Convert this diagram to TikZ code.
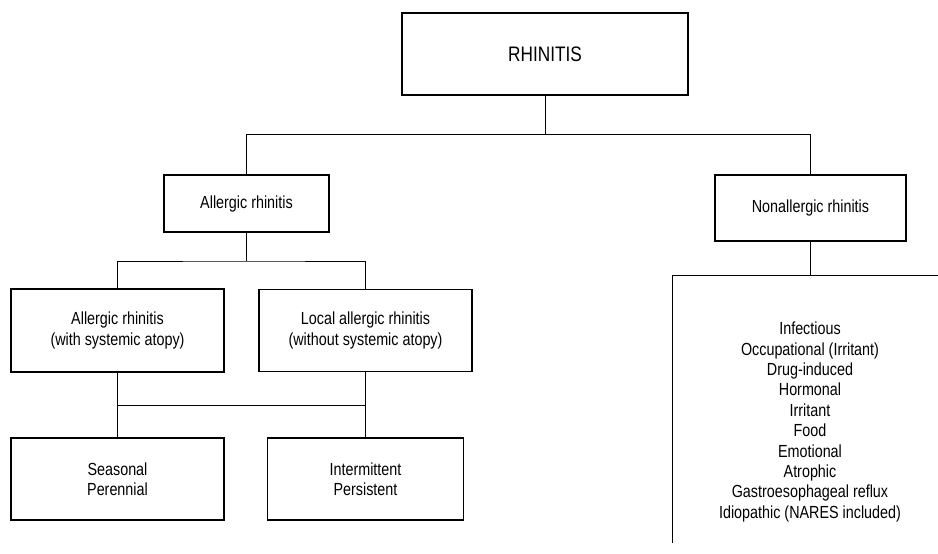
\documentclass[tikz,border=0pt]{standalone}
\usepackage{fontspec}
\setmainfont{Liberation Sans}[FakeStretch=0.82]
\tikzset{box/.style={draw, line width=1.1pt, align=center, inner sep=0pt},
         link/.style={line width=1pt}}
\begin{document}
\begin{tikzpicture}[x=1pt, y=-1pt, font=\fontsize{17.5}{20.4}\selectfont]
            \useasboundingbox (0,0) rectangle (938,554);
            \node [box, minimum width=286, minimum height=82, font=\fontsize{21}{24}\selectfont] (rhinitis) at (545,54) {RHINITIS};
            \node [box, minimum width=165, minimum height=57] (allergic) at (246.5,203.5) {Allergic rhinitis};
            \node [box, minimum width=191, minimum height=66] (nonallergic) at (810.5,208) {Nonallergic rhinitis};
            \node [box, minimum width=213, minimum height=83] (atopic) at (117.5,330.5) {Allergic rhinitis\\(with systemic atopy)};
            \node [box, minimum width=213, minimum height=82] (local) at (365.5,330.5) {Local allergic rhinitis\\(without systemic atopy)};
            \node [box, minimum width=213, minimum height=82] (seasonal) at (117.5,479) {Seasonal\\Perennial};
            \node [box, minimum width=196, minimum height=82] (intermittent) at (365.5,479) {Intermittent\\Persistent};
            \node [align=center] (causes) at (810,422) {Infectious\\Occupational (Irritant)\\Drug-induced\\Hormonal\\Irritant\\Food\\Emotional\\Atrophic\\Gastroesophageal reflux\\Idiopathic (NARES included)};
            \coordinate (split) at (545,134.5);
            \coordinate (branch) at (246.5,261);
            \coordinate (join) at (0,405);
            \coordinate (listtop) at (810.5,275);
            \coordinate (listleft) at (672,275);
            \coordinate (listend) at (938,275);
            \coordinate (listbottom) at (672,543);
            \path[link] (rhinitis) edge (split);
            \draw[link] (allergic) |- (split) -| (nonallergic);
            \path[link] (allergic) edge (branch);
            \draw[link] (atopic) |- (branch) -| (local);
            \path[link] (atopic) edge (seasonal);
            \path[link] (local) edge (intermittent);
            \draw[link] (atopic |- join) -- (local |- join);
            \path[link] (nonallergic) edge (listtop);
            \draw[link] (listend) -- (listleft) -- (listbottom);
        \end{tikzpicture}
\end{document}
